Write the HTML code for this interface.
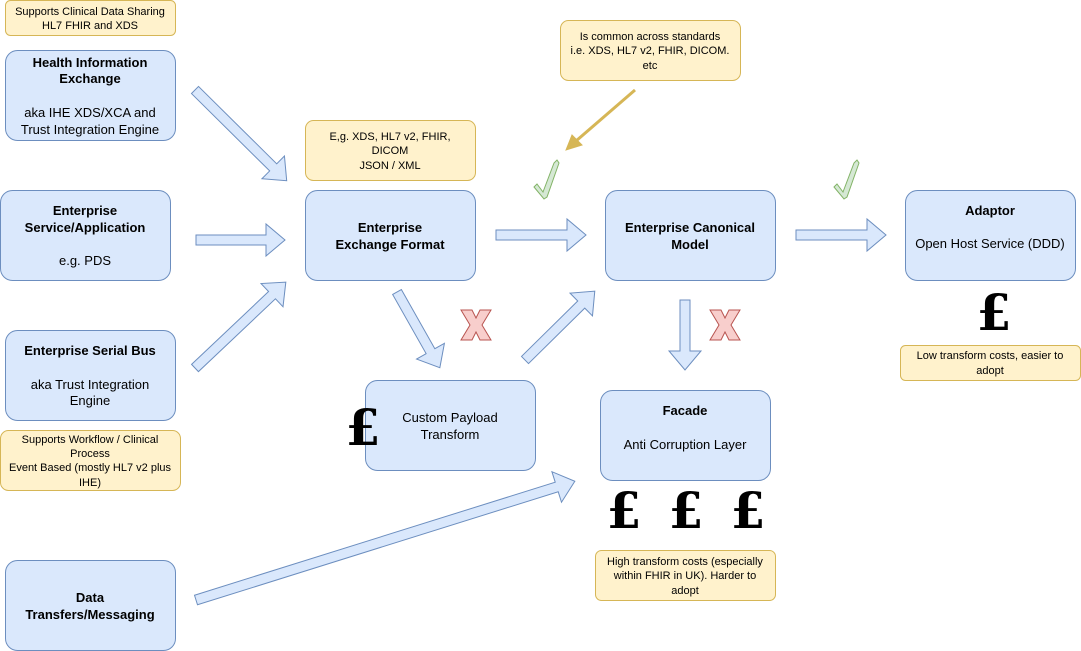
<!DOCTYPE html>
<html><head><meta charset="utf-8"><style>
html,body{margin:0;padding:0;background:#fff;}
svg{display:block;font-family:"Liberation Sans",Arial,sans-serif;}
.b{fill:#dae8fc;stroke:#6c8ebf;stroke-width:1;}
.n{fill:#fff2cc;stroke:#d6b656;stroke-width:1;}
.a{fill:#dae8fc;stroke:#6c8ebf;stroke-width:1;}
text{fill:#000;text-anchor:middle;}
.t{font-size:13px;}
.bd{font-size:13px;font-weight:bold;}
.s{font-size:11px;}
.p{font-family:"DejaVu Serif","Liberation Serif",serif;font-size:50px;font-weight:bold;text-anchor:middle;}
</style></head><body>
<svg width="1081" height="651" viewBox="0 0 1081 651" xmlns="http://www.w3.org/2000/svg">
<!-- arrows -->
<g class="a">
<polygon transform="translate(195,90) rotate(44.7)" points="0,-5 110,-5 110,-16 129,0 110,16 110,5 0,5"/>
<polygon transform="translate(196,240)" points="0,-5 70,-5 70,-16 89,0 70,16 70,5 0,5"/>
<polygon transform="translate(195,368) rotate(-43.4)" points="0,-5 106,-5 106,-16 125,0 106,16 106,5 0,5"/>
<polygon transform="translate(397,292) rotate(60.5)" points="0,-5 68,-5 68,-16 87,0 68,16 68,5 0,5"/>
<polygon transform="translate(525,360) rotate(-44.6)" points="0,-5 79,-5 79,-16 98,0 79,16 79,5 0,5"/>
<polygon transform="translate(496,235)" points="0,-5 71,-5 71,-16 90,0 71,16 71,5 0,5"/>
<polygon transform="translate(796,235)" points="0,-5 71,-5 71,-16 90,0 71,16 71,5 0,5"/>
<polygon transform="translate(685,300) rotate(90)" points="0,-5 51,-5 51,-16 70,0 51,16 51,5 0,5"/>
<polygon transform="translate(196,600) rotate(-17.4)" points="0,-5 378,-5 378,-16 397,0 378,16 378,5 0,5"/>
</g>
<!-- golden arrow -->
<line x1="635" y1="90" x2="576" y2="141" stroke="#d6b656" stroke-width="3"/>
<polygon points="566,150 572,135 582,145" fill="#d6b656" stroke="#d6b656" stroke-width="1"/>
<!-- notes -->
<rect class="n" x="5.5" y="0.5" width="170" height="35" rx="5"/>
<text class="s" x="90" y="15">Supports Clinical Data Sharing</text>
<text class="s" x="90" y="29">HL7 FHIR and XDS</text>
<rect class="n" x="305.5" y="120.5" width="170" height="60" rx="8"/>
<text class="s" x="390" y="140">E,g. XDS, HL7 v2, FHIR,</text>
<text class="s" x="390" y="154">DICOM</text>
<text class="s" x="390" y="169">JSON / XML</text>
<rect class="n" x="560.5" y="20.5" width="180" height="60" rx="8"/>
<text class="s" x="650" y="40">Is common across standards</text>
<text class="s" x="650" y="54">i.e. XDS, HL7 v2, FHIR, DICOM.</text>
<text class="s" x="650" y="69">etc</text>
<rect class="n" x="0.5" y="430.5" width="180" height="60" rx="8"/>
<text class="s" x="90" y="443">Supports Workflow / Clinical</text>
<text class="s" x="90" y="457">Process</text>
<text class="s" x="90" y="471">Event Based (mostly HL7 v2 plus</text>
<text class="s" x="90" y="486">IHE)</text>
<rect class="n" x="900.5" y="345.5" width="180" height="35" rx="5"/>
<text class="s" x="990" y="359">Low transform costs, easier to</text>
<text class="s" x="990" y="374">adopt</text>
<rect class="n" x="595.5" y="550.5" width="180" height="50" rx="6"/>
<text class="s" x="685" y="565">High transform costs (especially</text>
<text class="s" x="685" y="579">within FHIR in UK). Harder to</text>
<text class="s" x="685" y="594">adopt</text>
<!-- boxes -->
<rect class="b" x="5.5" y="50.5" width="170" height="90" rx="12"/>
<text class="bd" x="90" y="67">Health Information</text>
<text class="bd" x="90" y="83">Exchange</text>
<text class="t" x="90" y="117">aka IHE XDS/XCA and</text>
<text class="t" x="90" y="134">Trust Integration Engine</text>
<rect class="b" x="0.5" y="190.5" width="170" height="90" rx="12"/>
<text class="bd" x="85" y="215">Enterprise</text>
<text class="bd" x="85" y="232">Service/Application</text>
<text class="t" x="85" y="265">e.g. PDS</text>
<rect class="b" x="5.5" y="330.5" width="170" height="90" rx="12"/>
<text class="bd" x="90" y="355">Enterprise Serial Bus</text>
<text class="t" x="90" y="389">aka Trust Integration</text>
<text class="t" x="90" y="405">Engine</text>
<rect class="b" x="5.5" y="560.5" width="170" height="90" rx="12"/>
<text class="bd" x="90" y="602">Data</text>
<text class="bd" x="90" y="619">Transfers/Messaging</text>
<rect class="b" x="305.5" y="190.5" width="170" height="90" rx="12"/>
<text class="bd" x="390" y="232">Enterprise</text>
<text class="bd" x="390" y="249">Exchange Format</text>
<rect class="b" x="605.5" y="190.5" width="170" height="90" rx="12"/>
<text class="bd" x="690" y="232">Enterprise Canonical</text>
<text class="bd" x="690" y="249">Model</text>
<rect class="b" x="905.5" y="190.5" width="170" height="90" rx="12"/>
<text class="bd" x="990" y="215">Adaptor</text>
<text class="t" x="990" y="248">Open Host Service (DDD)</text>
<rect class="b" x="365.5" y="380.5" width="170" height="90" rx="12"/>
<text class="t" x="450" y="422">Custom Payload</text>
<text class="t" x="450" y="439">Transform</text>
<rect class="b" x="600.5" y="390.5" width="170" height="90" rx="12"/>
<text class="bd" x="685" y="415">Facade</text>
<text class="t" x="685" y="449">Anti Corruption Layer</text>
<!-- pounds -->
<text class="p" x="363" y="445">£</text>
<text class="p" x="624" y="528">£</text>
<text class="p" x="686" y="528">£</text>
<text class="p" x="748" y="528">£</text>
<text class="p" x="994" y="330">£</text>
<!-- checks -->
<g fill="#d5e8d4" stroke="#82b366" stroke-width="1">
<polygon transform="translate(534,160)" points="0,27 3,24 9,32 20,3 23,0 25,3 13,37 10,39"/>
<polygon transform="translate(834,160)" points="0,27 3,24 9,32 20,3 23,0 25,3 13,37 10,39"/>
</g>
<!-- X marks -->
<g fill="#f8cecc" stroke="#b85450" stroke-width="1">
<polygon transform="translate(461,310)" points="0,0 11,0 15,8 19,0 30,0 21,15 30,30 19,30 15,22 11,30 0,30 9,15"/>
<polygon transform="translate(710,310)" points="0,0 11,0 15,8 19,0 30,0 21,15 30,30 19,30 15,22 11,30 0,30 9,15"/>
</g>
</svg>
</body></html>
